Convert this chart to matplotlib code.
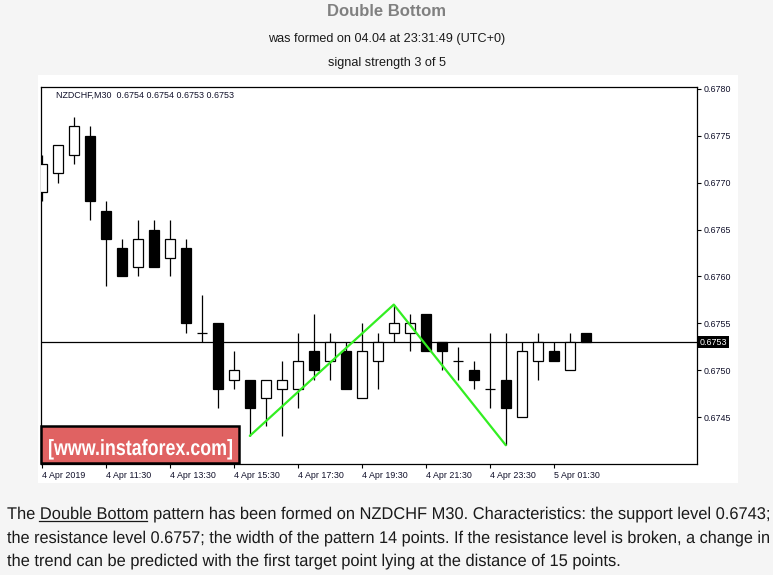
import matplotlib
matplotlib.use('Agg')
import matplotlib.pyplot as plt
from matplotlib.patches import Rectangle, PathPatch
from matplotlib.lines import Line2D
from matplotlib.textpath import TextPath
from matplotlib.font_manager import FontProperties
from matplotlib.transforms import Affine2D, blended_transform_factory

W, H = 773, 575

# NZDCHF M30, 4 Apr 09:30 .. 5 Apr 02:30
times = ['09:30', '10:00', '10:30', '11:00', '11:30', '12:00', '12:30', '13:00', '13:30',
         '14:00', '14:30', '15:00', '15:30', '16:00', '16:30', '17:00', '17:30', '18:00',
         '18:30', '19:00', '19:30', '20:00', '20:30', '21:00', '21:30', '22:00', '22:30',
         '23:00', '23:30', '00:00', '00:30', '01:00', '01:30', '02:00', '02:30']
opens = [0.6769, 0.6771, 0.6773, 0.6775, 0.6767, 0.6763, 0.6761, 0.6765, 0.6762,
         0.6763, 0.6754, 0.6755, 0.6749, 0.6749, 0.6747, 0.6748, 0.6748, 0.6752,
         0.6751, 0.6752, 0.6747, 0.6751, 0.6754, 0.6754, 0.6756, 0.6753, 0.6751,
         0.6750, 0.6748, 0.6749, 0.6745, 0.6751, 0.6752, 0.6750, 0.6754]
highs = [0.6773, 0.6774, 0.6777, 0.6776, 0.6768, 0.6764, 0.6766, 0.6766, 0.6766,
         0.6764, 0.6758, 0.6755, 0.6752, 0.6749, 0.6749, 0.6751, 0.6754, 0.6756,
         0.6754, 0.6753, 0.6755, 0.6754, 0.6757, 0.6756, 0.6756, 0.6753, 0.67525,
         0.6751, 0.6754, 0.6754, 0.6753, 0.6754, 0.6753, 0.6754, 0.6754]
lows = [0.6768, 0.6770, 0.6772, 0.6766, 0.6759, 0.6760, 0.6760, 0.6761, 0.6760,
        0.6754, 0.6753, 0.6746, 0.6748, 0.6743, 0.6744, 0.6743, 0.6746, 0.6749,
        0.6749, 0.6748, 0.6747, 0.6748, 0.6753, 0.6752, 0.6752, 0.6750, 0.6749,
        0.6748, 0.6746, 0.6742, 0.6745, 0.6749, 0.6751, 0.6750, 0.6753]
closes = [0.6772, 0.6774, 0.6776, 0.6768, 0.6764, 0.6760, 0.6764, 0.6761, 0.6764,
          0.6755, 0.6754, 0.6748, 0.6750, 0.6746, 0.6749, 0.6749, 0.6751, 0.6750,
          0.6753, 0.6748, 0.6752, 0.6753, 0.6755, 0.6755, 0.6752, 0.6752, 0.6751,
          0.6749, 0.6748, 0.6746, 0.6752, 0.6753, 0.6751, 0.6753, 0.6753]

tick_pos = [0, 4, 8, 12, 16, 20, 24, 28, 32]
tick_labels = ['4 Apr 2019', '4 Apr 11:30', '4 Apr 13:30', '4 Apr 15:30', '4 Apr 17:30',
               '4 Apr 19:30', '4 Apr 21:30', '4 Apr 23:30', '5 Apr 01:30']
y_ticks = [0.6745, 0.6750, 0.6755, 0.6760, 0.6765, 0.6770, 0.6775, 0.6780]

# double bottom: first low, resistance peak, second low
pattern_x = [13, 22, 29]
pattern_y = [0.6743, 0.6757, 0.6742]
last_price = 0.6753

title = 'Double Bottom'
subtitle = 'was formed on 04.04 at 23:31:49 (UTC+0)'
strength = 'signal strength 3 of 5'
header = 'NZDCHF,M30  0.6754 0.6754 0.6753 0.6753'
watermark = '[www.instaforex.com]'
para = [
    'The Double Bottom pattern has been formed on NZDCHF M30. Characteristics: the support level 0.6743;',
    'the resistance level 0.6757; the width of the pattern 14 points. If the resistance level is broken, a change in',
    'the trend can be predicted with the first target point lying at the distance of 15 points.',
]


def fx(px):
    return px / W


def fy(py):
    return 1 - py / H


fig = plt.figure(figsize=(W / 100, H / 100), dpi=100, facecolor='#f5f5f5')


def text_width(s, size, weight='normal'):
    tp = TextPath((0, 0), s, size=size, prop=FontProperties(family='Liberation Sans', weight=weight))
    return tp.get_extents().x1


def squeezed(s, x, base, size, sx, weight='normal', color='#1a1a1a', z=7):
    # text drawn as a path in pixel space, narrowed horizontally by sx
    tp = TextPath((0, 0), s, size=size, prop=FontProperties(family='Liberation Sans', weight=weight))
    t = Affine2D().scale(sx, 1).translate(x, H - base)
    fig.add_artist(PathPatch(tp, transform=t, facecolor=color, edgecolor='none', lw=0, zorder=z))


# white chart image panel
fig.patches.append(Rectangle((fx(38), fy(483)), fx(738) - fx(38), fy(75) - fy(483),
                             transform=fig.transFigure, facecolor='white', edgecolor='none', zorder=-5))

ax = fig.add_axes([fx(41), fy(464), fx(697) - fx(41), fy(87) - fy(464)])
ax.set_facecolor('white')

small = dict(family='Liberation Sans', fontsize=6.4)
ink = '#10102a'

# candles
bw = 0.66
for i in range(len(times)):
    o, hi, lo, c = opens[i], highs[i], lows[i], closes[i]
    ax.vlines(i, lo, hi, color='black', lw=0.9, zorder=2)
    if o == c:
        ax.hlines(o, i - bw / 2, i + bw / 2, color='black', lw=0.9, zorder=3)
    else:
        face = 'white' if c > o else 'black'
        ax.add_patch(Rectangle((i - bw / 2, min(o, c)), bw, abs(c - o),
                               facecolor=face, edgecolor='black', lw=0.9, zorder=3))

ax.axhline(last_price, color='black', lw=0.9, zorder=1)
ax.plot(pattern_x, pattern_y, color='#33ee22', lw=1.6, zorder=6, solid_capstyle='round')

ax.set_xlim(-0.05, 40.95)
ax.set_ylim(0.67400, 0.67802)

ax.yaxis.tick_right()
ax.set_yticks(y_ticks)
ax.set_yticklabels(['%.4f' % v for v in y_ticks], **small)
ax.set_xticks(tick_pos)
ax.set_xticklabels(tick_labels, ha='left', **small)
ax.tick_params(axis='both', length=3, width=0.8, pad=2, labelcolor=ink)
for s in ax.spines.values():
    s.set_linewidth(0.9)

ax.text(0.023, 0.978, header, transform=ax.transAxes, va='center', ha='left', color=ink, **small)

# current price marker
tr = blended_transform_factory(ax.transAxes, ax.transData)
ax.text(1.004, last_price, '%.4f' % last_price, transform=tr, va='center', ha='left',
        color='white', clip_on=False, bbox=dict(facecolor='black', edgecolor='none', pad=1.2), **small)

# watermark
fig.patches.append(Rectangle((fx(41), fy(463)), fx(239) - fx(41), fy(426) - fy(463),
                             transform=fig.transFigure, facecolor='#e06262', edgecolor='black',
                             lw=1.8, zorder=5))
wm_size = 22
wm_sx = 184 / text_width(watermark, wm_size, 'bold')
squeezed(watermark, 48, 455, wm_size, wm_sx, weight='bold', color='white')

# titles
fig.text(0.5, fy(12), title, ha='center', va='center', fontsize=12, fontweight='bold',
         color='#808080', family='Liberation Sans')
fig.text(0.5, fy(39), subtitle, ha='center', va='center', fontsize=9.1,
         color='#1a1a1a', family='Liberation Sans')
fig.text(0.5, fy(63), strength, ha='center', va='center', fontsize=9.1,
         color='#1a1a1a', family='Liberation Sans')

# paragraph below the chart: condensed text, first two lines fill the width
x0, x1 = 7, 769
psize = 17
baselines = [519, 543, 566]
sx_first = (x1 - x0) / text_width(para[0], psize)
for n, line in enumerate(para):
    sx = sx_first
    if n == 1:
        sx = (x1 - x0) / text_width(line, psize)
    squeezed(line, x0, baselines[n], psize, sx)

ux0 = x0 + (text_width('The', psize) + 0.278 * psize) * sx_first
ux1 = x0 + text_width('The Double Bottom', psize) * sx_first
fig.add_artist(Line2D([fx(ux0), fx(ux1)], [fy(baselines[0] + 1.5)] * 2,
                      transform=fig.transFigure, color='#1a1a1a', lw=0.9))

fig.savefig('out.png', dpi=100, facecolor=fig.get_facecolor())
